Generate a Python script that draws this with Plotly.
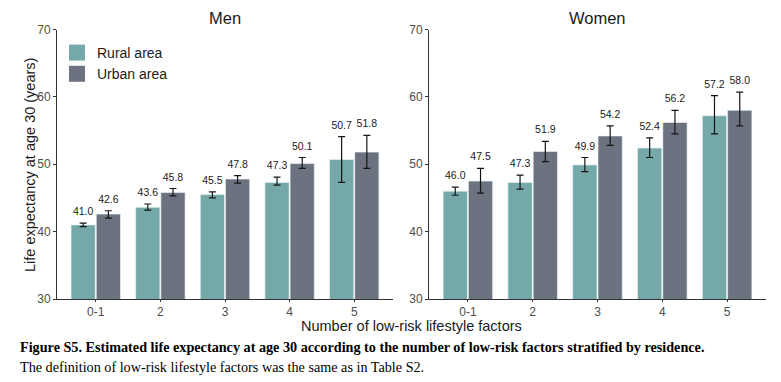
import plotly.graph_objects as go

categories = ["0-1", "2", "3", "4", "5"]

men_rural = [41.0, 43.6, 45.5, 47.3, 50.7]
men_rural_lo = [40.75, 43.2, 45.0, 46.9, 47.3]
men_rural_hi = [41.25, 44.1, 45.9, 48.1, 54.1]

men_urban = [42.6, 45.8, 47.8, 50.1, 51.8]
men_urban_lo = [42.0, 45.3, 47.2, 49.4, 49.4]
men_urban_hi = [43.1, 46.4, 48.3, 51.0, 54.3]

women_rural = [46.0, 47.3, 49.9, 52.4, 57.2]
women_rural_lo = [45.4, 46.3, 48.9, 51.0, 54.5]
women_rural_hi = [46.6, 48.4, 51.0, 53.9, 60.2]

women_urban = [47.5, 51.9, 54.2, 56.2, 58.0]
women_urban_lo = [45.7, 50.4, 52.8, 54.5, 55.7]
women_urban_hi = [49.4, 53.4, 55.7, 58.0, 60.7]

series_names = ["Rural area", "Urban area"]
panel_titles = ["Men", "Women"]
y_ticks = [30, 40, 50, 60, 70]

RURAL = "#75A8A8"
URBAN = "#6C7280"
ERR = "#151515"
W, H = 781, 382


def py(px):
    return 1 - px / H


def px_x(px):
    return px / W


fig = go.Figure()

panels = [
    ("x", "y", [(men_rural, men_rural_lo, men_rural_hi, RURAL, "r"),
                (men_urban, men_urban_lo, men_urban_hi, URBAN, "u")]),
    ("x2", "y2", [(women_rural, women_rural_lo, women_rural_hi, RURAL, "r"),
                  (women_urban, women_urban_lo, women_urban_hi, URBAN, "u")]),
]

for xa, ya, series in panels:
    for vals, lo, hi, col, grp in series:
        fig.add_trace(go.Bar(
            x=categories, y=vals, xaxis=xa, yaxis=ya,
            marker=dict(color=col, line=dict(width=0.8, color="rgba(235,245,245,0.8)")),
            offsetgroup=grp, alignmentgroup="a" + xa,
            error_y=dict(type="data", symmetric=False,
                         array=[h - v for h, v in zip(hi, vals)],
                         arrayminus=[v - l for l, v in zip(lo, vals)],
                         color=ERR, thickness=1.2, width=3.5),
            showlegend=False, hoverinfo="skip",
        ))
    for vals, lo, hi, col, grp in series:
        fig.add_trace(go.Scatter(
            x=categories, y=hi, xaxis=xa, yaxis=ya, mode="markers+text",
            marker=dict(size=7, opacity=0),
            text=[f"{v:.1f}" for v in vals], textposition="top center",
            textfont=dict(size=10.5, color="#1a1a1a", family="Liberation Sans, Arial"),
            offsetgroup=grp, alignmentgroup="a" + xa,
            showlegend=False, hoverinfo="skip",
        ))

# legend entries on a hidden axis pair
for name, col in zip(series_names, [RURAL, URBAN]):
    fig.add_trace(go.Scatter(
        x=[None], y=[None], xaxis="x3", yaxis="y3", mode="markers",
        marker=dict(symbol="square", size=16, color=col),
        name=name, showlegend=True,
    ))

axis_common = dict(
    showline=True, linecolor="#333333", linewidth=1,
    ticks="outside", tickcolor="#333333", tickwidth=1,
    tickfont=dict(size=12, color="#4d4d4d", family="Liberation Sans, Arial"),
    showgrid=False, zeroline=False, automargin=False,
)

ydom = [py(299), py(29.5)]
fig.update_layout(
    template="none",
    width=W, height=H,
    margin=dict(l=0, r=0, t=0, b=0, autoexpand=False),
    paper_bgcolor="white", plot_bgcolor="white",
    barmode="group", bargap=0.22, bargroupgap=0.04,
    scattermode="group", scattergap=0.22,
    font=dict(family="Liberation Sans, Arial", color="#1a1a1a"),
    xaxis=dict(type="category", domain=[px_x(57), px_x(393)], range=[-0.6, 4.6],
               anchor="y", ticklen=2, **axis_common),
    yaxis=dict(domain=ydom, range=[30, 70], tickvals=y_ticks, anchor="x", ticklen=3,
               **axis_common),
    xaxis2=dict(type="category", domain=[px_x(429), px_x(766)], range=[-0.6, 4.6],
                anchor="y2", ticklen=2, **axis_common),
    yaxis2=dict(domain=ydom, range=[30, 70], tickvals=y_ticks, anchor="x2", ticklen=3,
                **axis_common),
    xaxis3=dict(domain=[0, 0.01], visible=False, anchor="y3"),
    yaxis3=dict(domain=[0, 0.01], visible=False, anchor="x3"),
    legend=dict(x=px_x(57), y=py(37), xanchor="left", yanchor="top",
                font=dict(size=14, color="#1a1a1a"), itemsizing="trace",
                bgcolor="rgba(0,0,0,0)", tracegroupgap=0),
    showlegend=True,
)

annotations = [
    dict(text=panel_titles[0], x=(px_x(57) + px_x(393)) / 2, y=py(18), font=dict(size=16.5)),
    dict(text=panel_titles[1], x=(px_x(429) + px_x(766)) / 2, y=py(18), font=dict(size=16.5)),
    dict(text="Life expectancy at age 30 (years)", x=px_x(30), y=py(165), textangle=-90,
         font=dict(size=14.5)),
    dict(text="Number of low-risk lifestyle factors", x=px_x(411), y=py(326), font=dict(size=14.5)),
]
for a in annotations:
    a.update(xref="paper", yref="paper", showarrow=False, xanchor="center", yanchor="middle")
    fig.add_annotation(**a)

fig.add_annotation(
    text="<b>Figure S5. Estimated life expectancy at age 30 according to the number of low-risk factors stratified by residence.</b>",
    x=px_x(18), y=py(347), xref="paper", yref="paper", showarrow=False,
    xanchor="left", yanchor="middle",
    font=dict(family="Liberation Serif, Times New Roman", size=14.2, color="#000000"))
fig.add_annotation(
    text="The definition of low-risk lifestyle factors was the same as in Table S2.",
    x=px_x(18), y=py(367), xref="paper", yref="paper", showarrow=False,
    xanchor="left", yanchor="middle",
    font=dict(family="Liberation Serif, Times New Roman", size=14.2, color="#000000"))

fig.write_html(
    "out.html",
    config={"displayModeBar": False},
    post_script="document.body.style.margin='0';document.body.style.overflow='hidden';",
)
